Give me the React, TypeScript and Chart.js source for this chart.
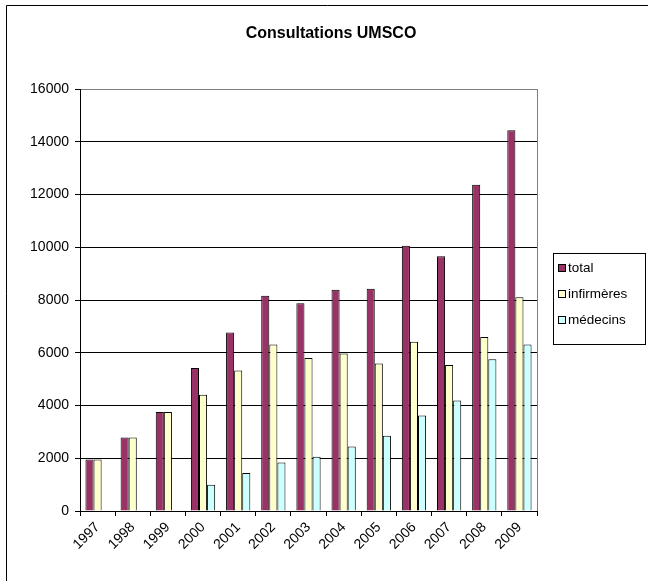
import React, { useEffect, useRef } from "react";
import { Chart, registerables } from "chart.js";

Chart.register(...registerables);

const categories = ["1997", "1998", "1999", "2000", "2001", "2002", "2003", "2004", "2005", "2006", "2007", "2008", "2009"];
const totalValues = [1950, 2790, 3750, 5420, 6770, 8160, 7880, 8390, 8430, 10060, 9660, 12370, 14440];
const infirmieresValues = [1950, 2790, 3750, 4410, 5330, 6310, 5800, 5970, 5590, 6420, 5540, 6600, 8100];
const medecinsValues: (number | null)[] = [null, null, null, 1000, 1440, 1840, 2060, 2450, 2850, 3620, 4190, 5750, 6310];
const seriesNames = ["total", "infirmères", "médecins"];
const seriesColors = ["#993366", "#FFFFCC", "#CCFFFF"];
const chartTitle = "Consultations UMSCO";

const FONT = "'Liberation Sans', Arial, sans-serif";

const decorPlugin = {
  id: "decor",
  afterDraw(chart: any) {
    const ctx = chart.ctx as CanvasRenderingContext2D;
    const a = chart.chartArea;
    ctx.save();
    // outer frame
    ctx.strokeStyle = "#000";
    ctx.lineWidth = 1;
    ctx.beginPath();
    ctx.moveTo(6.5, 700);
    ctx.lineTo(6.5, 5.5);
    ctx.lineTo(700, 5.5);
    ctx.stroke();
    // plot area right border
    ctx.strokeStyle = "#808080";
    ctx.beginPath();
    ctx.moveTo(Math.round(a.right) + 0.5, a.top);
    ctx.lineTo(Math.round(a.right) + 0.5, a.bottom);
    ctx.stroke();
    // title
    ctx.fillStyle = "#000";
    ctx.font = `bold 16px ${FONT}`;
    ctx.textAlign = "center";
    ctx.textBaseline = "middle";
    ctx.fillText(chartTitle, 331, 34);
    // legend
    const lx = 553.5, ly = 253.5, lw = 92, lh = 91;
    ctx.strokeStyle = "#000";
    ctx.strokeRect(lx, ly, lw, lh);
    ctx.font = `13.5px ${FONT}`;
    ctx.textAlign = "left";
    const rows = [268, 294, 320];
    seriesNames.forEach((name, i) => {
      ctx.fillStyle = seriesColors[i];
      ctx.fillRect(558.5, rows[i] - 3.5, 7, 7);
      ctx.strokeRect(558.5, rows[i] - 3.5, 7, 7);
      ctx.fillStyle = "#000";
      ctx.fillText(name, 568, rows[i] + 0.5);
    });
    ctx.restore();
  },
};

export default function App() {
  const ref = useRef<HTMLCanvasElement>(null);
  useEffect(() => {
    if (!ref.current) return;
    const values = [totalValues, infirmieresValues, medecinsValues];
    const chart = new Chart(ref.current, {
      type: "bar",
      data: {
        labels: categories,
        datasets: seriesNames.map((name, i) => ({
          label: name,
          data: values[i] as any,
          backgroundColor: seriesColors[i],
          borderColor: "#000",
          borderWidth: 1,
          categoryPercentage: 0.69,
          barPercentage: 1,
        })),
      },
      options: {
        animation: false,
        responsive: false,
        devicePixelRatio: 1,
        layout: { padding: { top: 89, right: 111, bottom: 0, left: 0 } },
        plugins: { legend: { display: false }, title: { display: false }, tooltip: { enabled: false } },
        scales: {
          x: {
            afterFit: (s: any) => { s.height = 70; },
            grid: { display: true, drawOnChartArea: false, drawTicks: true, tickLength: 5, color: "#000", offset: true },
            border: { display: true, color: "#000" },
            ticks: { minRotation: 45, maxRotation: 45, color: "#000", font: { family: FONT, size: 14 }, padding: 3 },
          },
          y: {
            min: 0,
            max: 16000,
            afterFit: (s: any) => { s.width = 80; },
            ticks: {
              stepSize: 2000,
              color: "#000",
              font: { family: FONT, size: 14 },
              padding: 6,
              callback: (v: any) => String(v),
            },
            grid: {
              color: (c: any) => (c.tick && c.tick.value === 16000 ? "#808080" : "#000"),
              tickColor: "#000",
              drawTicks: true,
              tickLength: 5,
            },
            border: { display: true, color: "#000" },
          },
        },
      },
      plugins: [decorPlugin],
    });
    return () => chart.destroy();
  }, []);
  return (
    <div style={{ position: "fixed", left: 0, top: 0, width: 648, height: 581, background: "#fff" }}>
      <canvas ref={ref} width={648} height={581} style={{ display: "block", width: 648, height: 581 }} />
    </div>
  );
}
